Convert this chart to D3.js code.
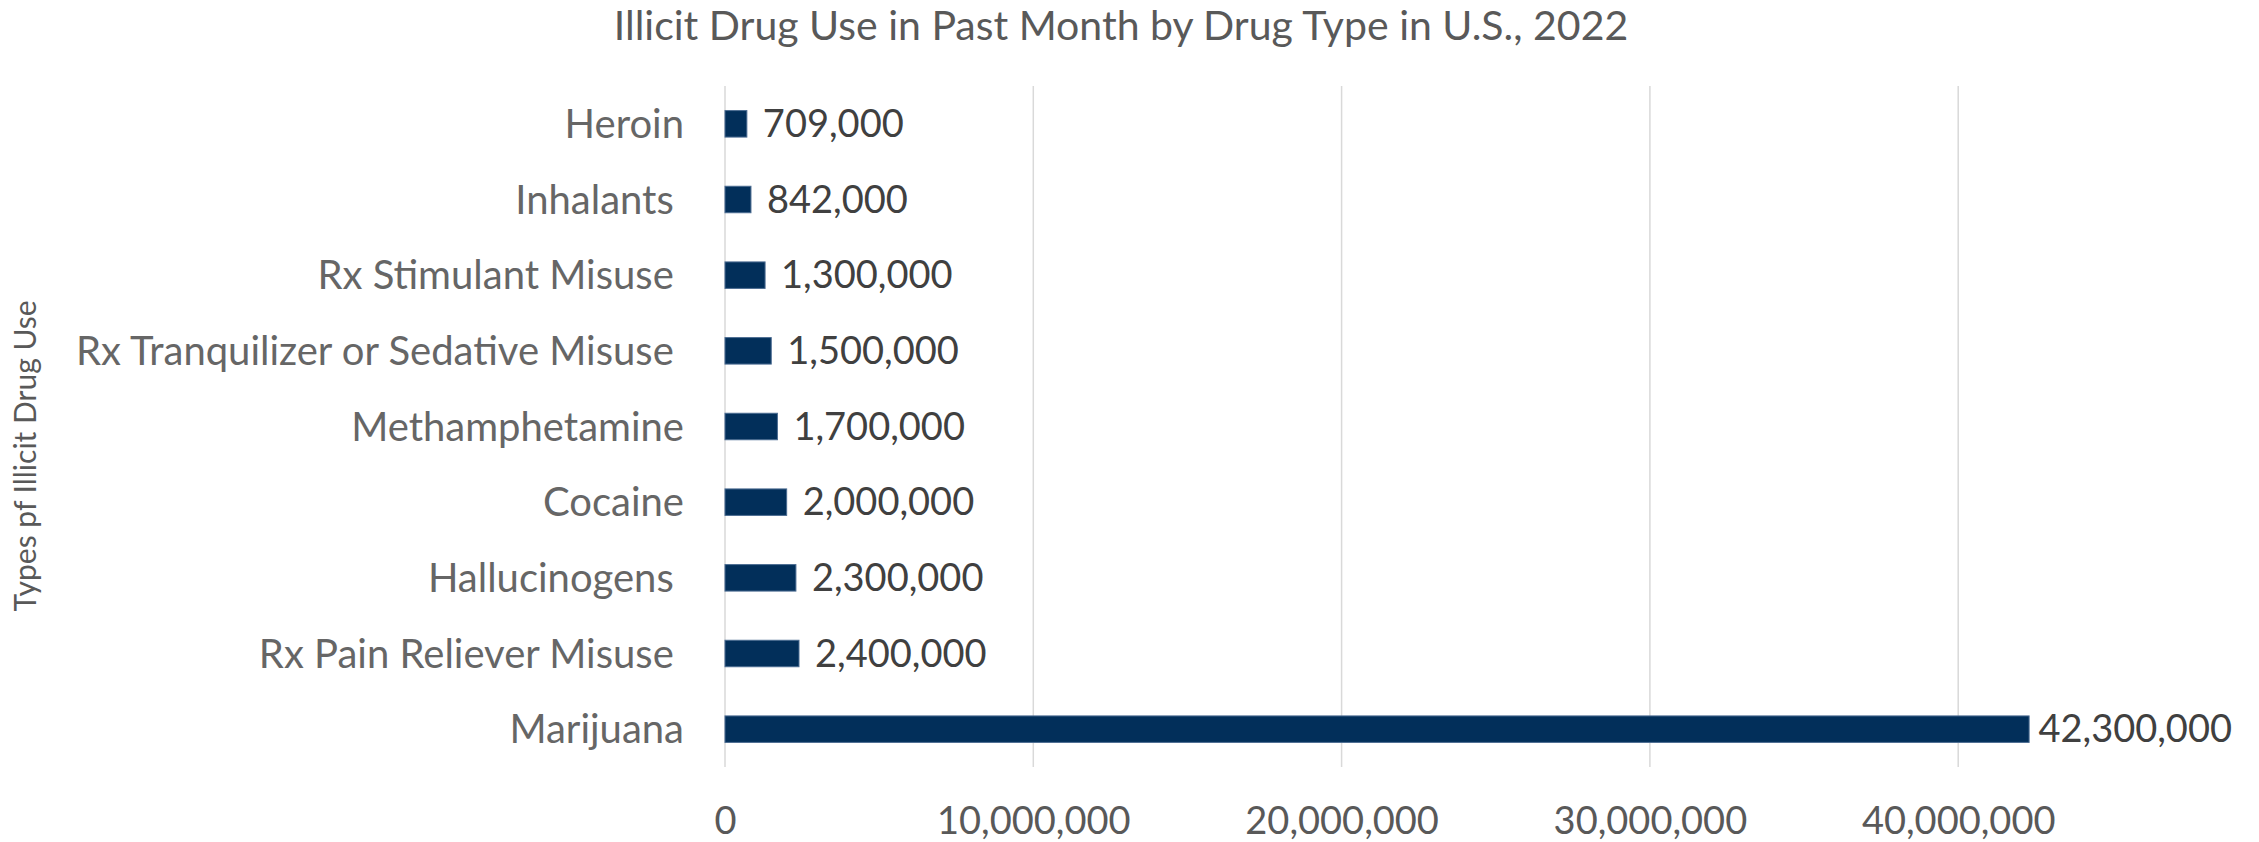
<!DOCTYPE html>
<html>
<head>
<meta charset="utf-8">
<script src="https://cdn.jsdelivr.net/npm/d3@7"></script>
<style>
  html, body { margin: 0; padding: 0; background: #ffffff; }
  svg { display: block; }
  text { font-family: Lato, "Open Sans", sans-serif; white-space: pre; }
</style>
</head>
<body>
<svg id="chart" width="2259" height="842"></svg>
<script>
// ---- data ----
const categories = [
  "Heroin",
  "Inhalants ",
  "Rx Stimulant Misuse ",
  "Rx Tranquilizer or Sedative Misuse ",
  "Methamphetamine",
  "Cocaine",
  "Hallucinogens ",
  "Rx Pain Reliever Misuse ",
  "Marijuana"
];
const values = [709000, 842000, 1300000, 1500000, 1700000, 2000000, 2300000, 2400000, 42300000];
const xTickValues = [0, 10000000, 20000000, 30000000, 40000000];
const titleText = "Illicit Drug Use in Past Month by Drug Type in U.S., 2022";
const yAxisTitle = "Types pf Illicit Drug Use";

// ---- layout ----
const W = 2259, H = 842;
const plotLeft = 725, plotTop = 86, plotBottom = 767;
const pxPer10M = 308.3;
const svg = d3.select("#chart");

const x = d3.scaleLinear().domain([0, 50000000]).range([plotLeft, plotLeft + 5 * pxPer10M]);
const y = d3.scaleBand().domain(categories).range([plotTop, plotBottom])
  .paddingInner(0.65).paddingOuter(0.325);
const fmt = d3.format(",");

// gridlines
svg.append("g").selectAll("line").data(xTickValues).join("line")
  .attr("x1", d => x(d)).attr("x2", d => x(d))
  .attr("y1", plotTop).attr("y2", plotBottom)
  .attr("stroke", "#d9d9d9").attr("stroke-width", 1.5);

// title
svg.append("text")
  .attr("x", 1121).attr("y", 40)
  .attr("text-anchor", "middle")
  .attr("font-size", 41).attr("fill", "#595959")
  .text(titleText);

// y axis title
svg.append("text")
  .attr("transform", "translate(36,456) rotate(-90)")
  .attr("text-anchor", "middle")
  .attr("font-size", 30).attr("fill", "#595959")
  .text(yAxisTitle);

// category labels (axisLeft)
const yAxis = d3.axisLeft(y).tickSize(0).tickPadding(0);
const yg = svg.append("g").attr("transform", "translate(684,0)").call(yAxis);
yg.select(".domain").remove();
yg.selectAll("text")
  .attr("font-family", "Lato, 'Open Sans', sans-serif")
  .attr("font-size", 40).attr("fill", "#666666")
  .attr("dy", "0.35em")
  .style("white-space", "pre");

// x axis ticks
const xAxis = d3.axisBottom(x).tickValues(xTickValues).tickFormat(fmt).tickSize(0).tickPadding(0);
const xg = svg.append("g").attr("transform", "translate(0,834)").call(xAxis);
xg.select(".domain").remove();
xg.selectAll("text")
  .attr("font-family", "Lato, 'Open Sans', sans-serif")
  .attr("font-size", 38).attr("fill", "#595959")
  .attr("dy", 0).attr("y", 0);

// bars
const data = categories.map((c, i) => ({ cat: c, val: values[i] }));
svg.append("g").selectAll("rect").data(data).join("rect")
  .attr("x", x(0))
  .attr("y", d => y(d.cat))
  .attr("width", d => x(d.val) - x(0))
  .attr("height", y.bandwidth())
  .attr("fill", "#022f5a")
  .attr("stroke", "#4a6b91").attr("stroke-width", 1);

// value labels
const labels = svg.append("g").selectAll("text").data(data).join("text")
  .attr("y", d => y(d.cat) + y.bandwidth() / 2)
  .attr("dy", "0.35em")
  .attr("font-size", 38).attr("fill", "#404040")
  .text(d => fmt(d.val));
labels.each(function(d) {
  const len = this.getComputedTextLength();
  const pos = Math.min(x(d.val) + 16, 2232 - len);
  d3.select(this).attr("x", pos);
});
</script>
</body>
</html>
